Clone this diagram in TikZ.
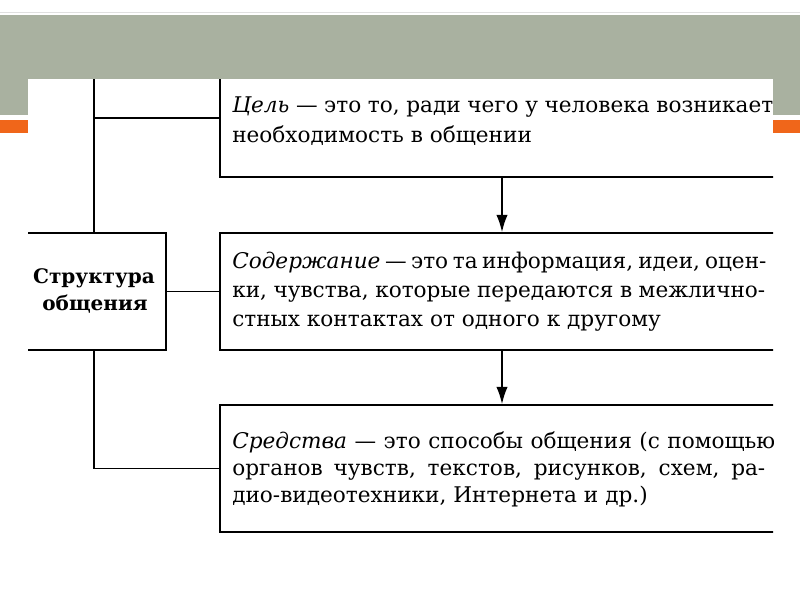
\documentclass[tikz,border=0pt]{standalone}
\usepackage{fontspec}
\setmainfont{DejaVu Serif}
\usetikzlibrary{arrows.meta,fit}
\definecolor{band}{RGB}{169,177,160}
\definecolor{accent}{RGB}{240,102,26}
\newlength\pxu
\setlength\pxu{0.75pt}
\tikzset{
  box/.style={draw=black, line width=1.2pt, inner sep=0pt, rectangle},
  conn/.style={draw=black, line width=1.2pt},
  arr/.style={conn, -{Latex[length=13pt,width=8.5pt]}},
  txt/.style={font=\fontsize{16.2}{19}\selectfont, inner sep=0pt, anchor=base west},
  stxt/.style={font=\fontsize{15}{17}\selectfont\bfseries, inner sep=0pt, anchor=base},
}
\begin{document}
\begin{tikzpicture}[x=0.75pt,y=-0.75pt]
\useasboundingbox (0,0) rectangle (800,600);
\fill[white] (0,0) rectangle (800,600);
\draw[black!12, line width=0.75pt] (0,12) -- (800,12);
\fill[band] (0,15) rectangle (800,115);
\fill[accent] (0,120) rectangle (28,133);
\fill[accent] (773,120) rectangle (800,133);
\fill[white] (28,79) rectangle (773,600);
\begin{scope}
\clip (28,79) rectangle (773,600);
\node[box, fit={(220,59) (800,177)}] (c1) {};
\node[box, fit={(220,233) (800,350)}] (c2) {};
\node[box, fit={(220,405) (800,532)}] (c3) {};
\node[box, fit={(10,233) (166,350)}] (st) {};
\coordinate (trunk) at (94,60);
\coordinate (ax) at (502,0);
\draw[conn] (trunk) -- (trunk |- st.north);
\draw[conn] (trunk |- c1.west) -- (c1.west);
\draw[conn] (trunk |- st.south) |- (c3.west);
\draw[conn] (st.east) -- (c2.west);
\draw[arr] (c1.south -| ax) -- (c2.north -| ax);
\draw[arr] (c2.south -| ax) -- (c3.north -| ax);
\node[stxt] (s1) at (94,283) {Структура};
\node[stxt] (s2) at (95,310) {общения};
\node[txt] (a1) at (232,112) {\makebox[541\pxu][s]{\textit{Цель} — это то, ради чего у человека возникает}};
\node[txt] (a2) at (232,142) {необходимость в общении};
\node[txt] (b1) at (232,268) {\makebox[533\pxu][s]{\textit{Содержание} — это та информация, идеи, оцен-}};
\node[txt] (b2) at (232,297) {\makebox[533\pxu][s]{ки, чувства, которые передаются в межлично-}};
\node[txt] (b3) at (232,326) {стных контактах от одного к другому};
\node[txt] (d1) at (232,448) {\makebox[543\pxu][s]{\textit{Средства} — это способы общения (с помощью}};
\node[txt] (d2) at (232,475) {\makebox[533\pxu][s]{органов чувств, текстов, рисунков, схем, ра-}};
\node[txt] (d3) at (232,502) {дио-видеотехники, Интернета и др.)};
\end{scope}
\end{tikzpicture}
\end{document}
